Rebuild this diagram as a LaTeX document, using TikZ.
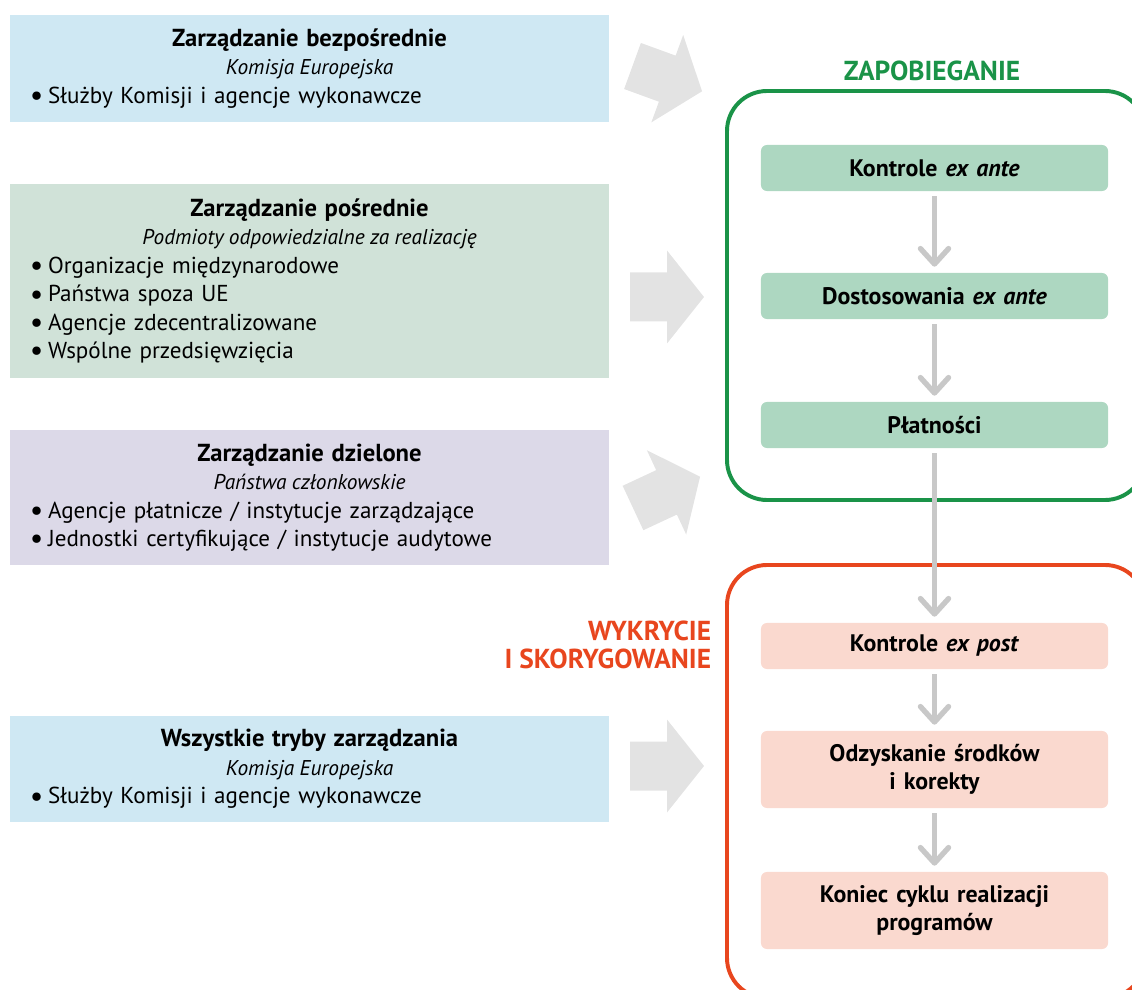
\documentclass[tikz,border=0pt]{standalone}
\usepackage{fontspec}
\usepackage{graphicx}
\setmainfont{PT Sans}
\usetikzlibrary{arrows.meta}

\definecolor{skyfill}{HTML}{CFE8F3}
\definecolor{sagefill}{HTML}{D0E2D8}
\definecolor{lilacfill}{HTML}{DCD9E8}
\definecolor{mintfill}{HTML}{ADD7C1}
\definecolor{peachfill}{HTML}{FAD9CF}
\definecolor{framegreen}{HTML}{1A9348}
\definecolor{framered}{HTML}{E8461E}
\definecolor{bigarrow}{HTML}{E3E3E3}
\definecolor{steparrow}{HTML}{C8C8C8}

% block arrow: tail centre at #1, turned by #2
\newcommand{\fatarrow}[2]{%
  \fill[bigarrow, shift={#1}, rotate=#2]
    (0,-24.5) -- (37,-24.5) -- (37,-46.5) -- (74,0) -- (37,46.5) -- (37,24.5) -- (0,24.5) -- cycle;}
% bullet, title and subtitle of a mode box
\newcommand{\itemdot}{\raisebox{-0.2ex}{\scalebox{1.3}{\textbullet}}\hspace{0.2em}}
\newcommand{\modehead}[2]{{\centering\fontsize{17.5}{20.2}\selectfont\bfseries #1\par
  \fontsize{15.2}{20.2}\selectfont\mdseries\itshape\spaceskip=0.25em #2\par}}

\begin{document}
\begin{tikzpicture}[x=0.025cm, y=-0.025cm,
  mode/.style={fill=#1, minimum width=14.975cm, text width=13.975cm, inner xsep=0.5cm,
    inner ysep=0pt, align=left, font=\fontsize{16.4}{20.2}\selectfont},
  stage/.style={fill=#1, rounded corners=0.15cm, minimum width=8.675cm, text width=8.2cm,
    inner ysep=0pt, align=center, font=\fontsize{17}{20.2}\selectfont\bfseries},
  flow/.style={steparrow, line width=3.8pt, shorten <=0.12cm, shorten >=0.15cm,
    -{Straight Barb[length=11pt, width=20pt, round]}},
  phase/.style={font=\fontsize{19.5}{20.2}\selectfont\bfseries, align=right}]
  \clip (0,0) rectangle (1132,990);

  % management modes
  \node [mode=skyfill, minimum height=2.675cm] (direct) at (309.5,68.5)
    {\modehead{Zarządzanie bezpośrednie}{Komisja Europejska}
     \itemdot Służby Komisji i agencje wykonawcze};
  \node [mode=sagefill, minimum height=4.825cm] (indirect) at (309.5,281)
    {\modehead{Zarządzanie pośrednie}{Podmioty odpowiedzialne za realizację}
     \itemdot Organizacje międzynarodowe\par
     \itemdot Państwa spoza UE\par
     \itemdot Agencje zdecentralizowane\par
     \itemdot Wspólne przedsięwzięcia};
  \node [mode=lilacfill, minimum height=3.35cm] (shared) at (309.5,497.5)
    {\modehead{Zarządzanie dzielone}{Państwa członkowskie}
     \itemdot Agencje płatnicze / instytucje zarządzające\par
     \itemdot Jednostki certyfikujące / instytucje audytowe};
  \node [mode=skyfill, minimum height=2.65cm] (allmodes) at (309.5,769)
    {\modehead{Wszystkie tryby zarządzania}{Komisja Europejska}
     \itemdot Służby Komisji i agencje wykonawcze};

  % big grey arrows
  \fatarrow{(632.5,66)}{-20}
  \fatarrow{(630,297)}{0}
  \fatarrow{(633,508)}{25}
  \fatarrow{(630,766)}{0}

  % frames
  \draw [framegreen, line width=2.8pt, rounded corners=1cm] (727,91) rectangle (1145,500);
  \draw [framered, line width=2.8pt, rounded corners=1cm] (727,565) rectangle (1145,998);
  \node [phase, text=framegreen] (prevent) at (932,71) {ZAPOBIEGANIE};
  \node [phase, text=framered, anchor=east] (detect) at (716,645) {WYKRYCIE\\I SKORYGOWANIE};

  % stages
  \node [stage=mintfill, minimum height=1.15cm] (exante) at (934.5,168) {Kontrole \textit{ex ante}};
  \node [stage=mintfill, minimum height=1.15cm] (adjust) at (934.5,296) {Dostosowania \textit{ex ante}};
  \node [stage=mintfill, minimum height=1.15cm] (pay) at (934.5,425) {Płatności};
  \node [stage=peachfill, minimum height=1.15cm] (expost) at (934.5,646) {Kontrole \textit{ex post}};
  \node [stage=peachfill, minimum height=1.925cm] (recover) at (934.5,769.5) {Odzyskanie środków\\i korekty};
  \node [stage=peachfill, minimum height=1.925cm] (closure) at (934.5,910.5) {Koniec cyklu realizacji\\programów};

  \draw [flow] (exante) -- (adjust);
  \draw [flow] (adjust) -- (pay);
  \draw [flow] (pay) -- (expost);
  \draw [flow] (expost) -- (recover);
  \draw [flow] (recover) -- (closure);
\end{tikzpicture}
\end{document}
